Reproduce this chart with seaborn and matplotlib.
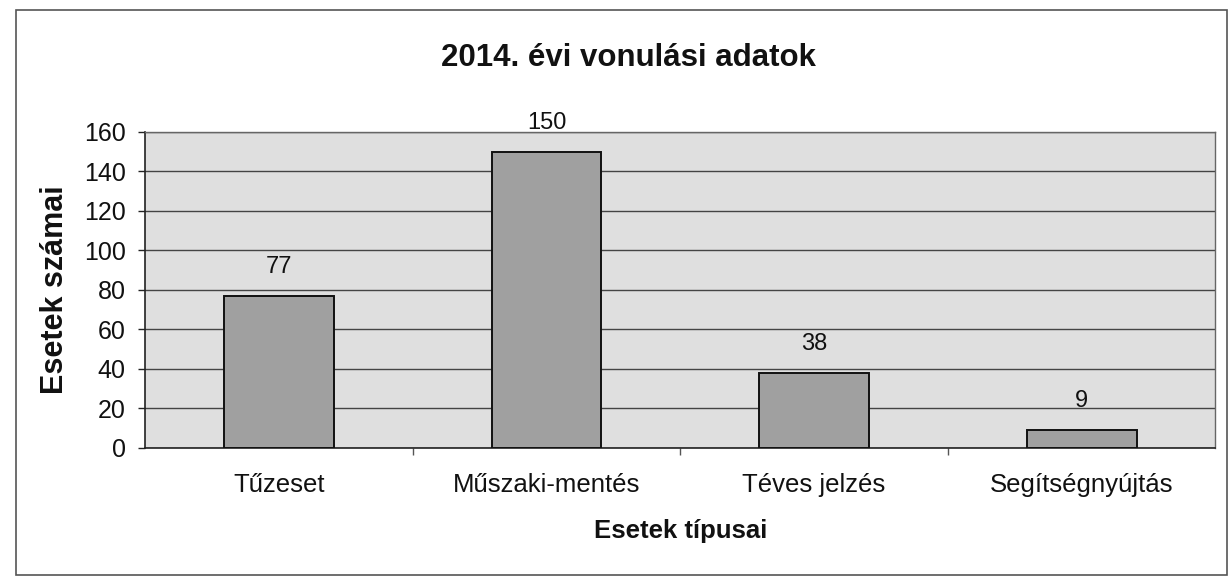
import matplotlib
matplotlib.use("Agg")
import matplotlib.pyplot as plt
import seaborn as sns
import pandas as pd
from matplotlib.patches import Rectangle

categories = ["Tűzeset", "Műszaki-mentés", "Téves jelzés", "Segítségnyújtás"]
values = [77, 150, 38, 9]
yticks = [0, 20, 40, 60, 80, 100, 120, 140, 160]

sns.set_theme(style="white")
plt.rcParams['font.family'] = ['Liberation Sans', 'DejaVu Sans']

df = pd.DataFrame({"cat": categories, "val": values})

fig = plt.figure(figsize=(12.29, 5.78), dpi=100)
ax = fig.add_axes([0.118, 0.225, 0.871, 0.547])
ax.set_facecolor("#dfdfdf")

sns.barplot(data=df, x="cat", y="val", ax=ax, color="#a0a0a0", width=0.41,
            edgecolor="#111111", linewidth=1.4, saturation=1, zorder=3)

ax.set_ylim(0, 160)
ax.set_yticks(yticks)
ax.set_xlim(-0.5, len(categories) - 0.5)
ax.yaxis.grid(True, color="#444444", linewidth=1.0, zorder=0)
ax.set_axisbelow(True)

for i, v in enumerate(values):
    ax.text(i, v + 9, str(v), ha="center", va="bottom", fontsize=17, color="#111111")

for s in ["top", "right"]:
    ax.spines[s].set_color("#666666")
    ax.spines[s].set_linewidth(1.0)
for s in ["left", "bottom"]:
    ax.spines[s].set_color("#222222")
    ax.spines[s].set_linewidth(1.2)

ax.tick_params(axis="y", which="major", length=5, width=1, color="#222222",
               labelsize=18, left=True, pad=9, labelcolor="#111111")
ax.tick_params(axis="x", which="major", length=0, labelsize=18.5, pad=18, labelcolor="#111111")
ax.set_xticks([0.5, 1.5, 2.5], minor=True)
ax.tick_params(axis="x", which="minor", length=5, width=1, color="#555555", bottom=True)

ax.set_xlabel("Esetek típusai", fontsize=18.5, fontweight="bold", labelpad=16, color="#111111")
ax.set_ylabel("Esetek számai", fontsize=22, fontweight="bold", labelpad=10, color="#111111")

fig.text(0.511, 0.9, "2014. évi vonulási adatok", ha="center", va="center",
         fontsize=22.5, fontweight="bold", color="#111111")

fig.patches.append(Rectangle((0.013, 0.006), 0.985, 0.976, transform=fig.transFigure,
                             fill=False, edgecolor="#555555", linewidth=1.2))

fig.savefig("out.png", dpi=100)
